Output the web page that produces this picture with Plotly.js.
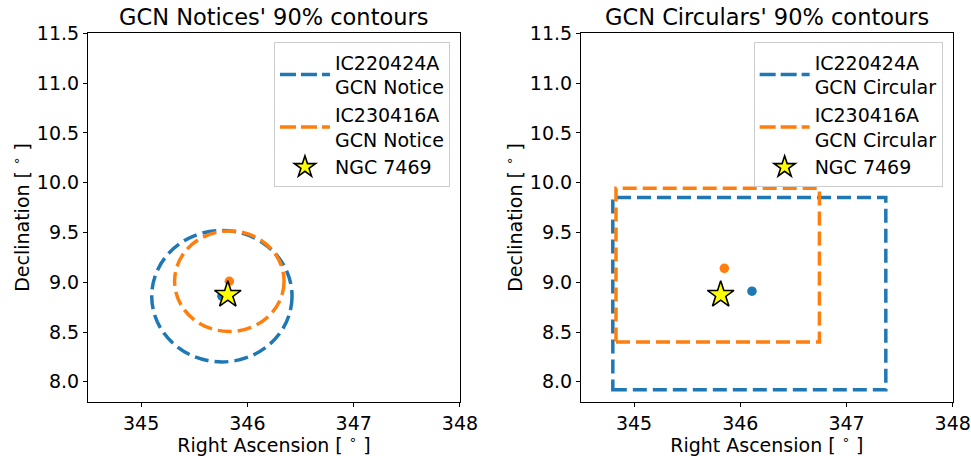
<!DOCTYPE html>
<html>
<head>
<meta charset="utf-8">
<script src="https://cdn.plot.ly/plotly-3.0.1.min.js"></script>
<style>html,body{margin:0;padding:0;background:#fff;}#chart{width:971px;height:456px;}</style>
</head>
<body>
<div id="chart"></div>
<script>
// ---- data ----
const eventNames = ['IC220424A', 'IC230416A'];
const eventColors = ['#1f77b4', '#ff7f0e'];

// GCN Notices: best fit + circular 90% radius (deg)
const noticeRA = [345.76, 345.83];
const noticeDec = [8.86, 9.01];
const noticeRadiusRA = [0.66, 0.515];
const noticeRadiusDec = [0.66, 0.505];

// GCN Circulars: best fit + rectangular 90% bounds (deg)
const circularRA = [346.11, 345.85];
const circularDec = [8.91, 9.14];
const circularRAlo = [344.80, 344.83];
const circularRAhi = [347.37, 346.745];
const circularDeclo = [7.92, 8.40];
const circularDechi = [9.85, 9.945];

const sourceName = 'NGC 7469';
const sourceRA = [345.8156];
const sourceDec = [8.874];

const titles = ["GCN Notices' 90% contours", "GCN Circulars' 90% contours"];
const xTicks = [345, 346, 347, 348];
const yTicks = [8.0, 8.5, 9.0, 9.5, 10.0, 10.5, 11.0, 11.5];

// ---- build ----
const FONT = 'DejaVu Sans, sans-serif';
const dash = '14px,6px';
const lw = 3.5;
const traces = [];
const shapes = [];

[['x', 'y', 'legend', 'GCN Notice', noticeRA, noticeDec],
 ['x2', 'y2', 'legend2', 'GCN Circular', circularRA, circularDec]].forEach(function (p) {
  for (let i = 0; i < eventNames.length; i++) {
    traces.push({
      type: 'scatter', mode: 'lines', x: [null], y: [null], xaxis: p[0], yaxis: p[1],
      legend: p[2], name: eventNames[i] + '<br>' + p[3],
      line: {color: eventColors[i], width: lw, dash: '16px,5px'}, hoverinfo: 'skip'
    });
  }
  for (let i = 0; i < eventNames.length; i++) {
    traces.push({
      type: 'scatter', mode: 'markers', x: [p[4][i]], y: [p[5][i]], xaxis: p[0], yaxis: p[1],
      showlegend: false, marker: {color: eventColors[i], size: 9.5, line: {width: 0}}
    });
  }
  traces.push({
    type: 'scatter', mode: 'markers', x: sourceRA, y: sourceDec, xaxis: p[0], yaxis: p[1],
    legend: p[2], name: sourceName,
    marker: {symbol: 'star', color: '#ffff00', size: 20, line: {color: '#000', width: 1.6}}
  });
});

for (let i = 0; i < eventNames.length; i++) {
  shapes.push({
    type: 'circle', xref: 'x', yref: 'y',
    x0: noticeRA[i] - noticeRadiusRA[i], x1: noticeRA[i] + noticeRadiusRA[i],
    y0: noticeDec[i] - noticeRadiusDec[i], y1: noticeDec[i] + noticeRadiusDec[i],
    line: {color: eventColors[i], width: lw, dash: dash}, layer: 'below'
  });
  shapes.push({
    type: 'rect', xref: 'x2', yref: 'y2',
    x0: circularRAlo[i], x1: circularRAhi[i], y0: circularDeclo[i], y1: circularDechi[i],
    line: {color: eventColors[i], width: lw, dash: dash}, layer: 'below'
  });
}

function xax(domain, anchor) {
  return {
    domain: domain, anchor: anchor, range: [344.5, 348], tickvals: xTicks, ticktext: xTicks.map(String),
    ticks: 'outside', ticklen: 4, tickwidth: 1, tickcolor: '#000', showgrid: false, zeroline: false,
    showline: true, mirror: true, linecolor: '#000', linewidth: 1,
    tickfont: {family: FONT, size: 19, color: '#000'},
    title: {text: 'Right Ascension [ <sup>∘</sup> ]', font: {family: FONT, size: 19, color: '#000'}, standoff: 5}
  };
}
function yax(anchor) {
  return {
    domain: [0.119, 0.927], anchor: anchor, range: [7.8, 11.5], tickvals: yTicks, ticktext: yTicks.map(v => v.toFixed(1)),
    ticks: 'outside', ticklen: 4, tickwidth: 1, tickcolor: '#000', showgrid: false, zeroline: false,
    showline: true, mirror: true, linecolor: '#000', linewidth: 1,
    tickfont: {family: FONT, size: 19, color: '#000'},
    title: {text: 'Declination [ <sup>∘</sup> ]', font: {family: FONT, size: 19, color: '#000'}, standoff: 2}
  };
}

const legendBase = {
  yanchor: 'top', xanchor: 'right', y: 0.907,
  bgcolor: 'rgba(255,255,255,0.8)', bordercolor: '#cccccc', borderwidth: 1,
  font: {family: FONT, size: 19, color: '#000'}, itemwidth: 50, tracegroupgap: 0
};

const layout = {
  width: 971, height: 456, margin: {l: 0, r: 0, t: 0, b: 0},
  paper_bgcolor: '#fff', plot_bgcolor: '#fff', showlegend: true,
  font: {family: FONT, color: '#000'},
  xaxis: xax([0.0906, 0.4737], 'y'),
  yaxis: yax('x'),
  xaxis2: xax([0.5983, 0.9812], 'y2'),
  yaxis2: yax('x2'),
  legend: Object.assign({}, legendBase, {x: 0.4634}),
  legend2: Object.assign({}, legendBase, {x: 0.9708}),
  shapes: shapes,
  annotations: [
    {text: titles[0], xref: 'paper', yref: 'paper', x: (0.0906 + 0.4737) / 2, y: 1 - 17 / 456,
     xanchor: 'center', yanchor: 'middle', showarrow: false, font: {family: FONT, size: 22.5, color: '#000'}},
    {text: titles[1], xref: 'paper', yref: 'paper', x: (0.5983 + 0.9812) / 2, y: 1 - 17 / 456,
     xanchor: 'center', yanchor: 'middle', showarrow: false, font: {family: FONT, size: 22.5, color: '#000'}}
  ]
};

Plotly.newPlot('chart', traces, layout, {displayModeBar: false, staticPlot: true});
</script>
</body>
</html>
